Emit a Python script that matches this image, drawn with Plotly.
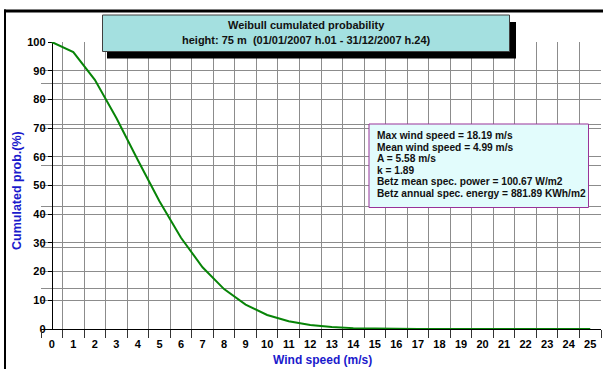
import plotly.graph_objects as go

# ---- data ----
wind_speed = list(range(0, 26))
cum_prob = [100, 96.5, 86.8, 73.5, 58.8, 44.5, 31.8, 21.5, 13.9, 8.5, 4.9,
            2.7, 1.4, 0.7, 0.3, 0.15, 0.05, 0, 0, 0, 0, 0, 0, 0, 0, 0]
x_tick_labels = [str(v) for v in range(0, 26)]
y_tick_vals = list(range(0, 101, 10))

title_lines = ["Weibull cumulated probability",
               "height: 75 m  (01/01/2007 h.01 - 31/12/2007 h.24)"]
info_lines = ["Max wind speed = 18.19 m/s",
              "Mean wind speed = 4.99 m/s",
              "A = 5.58 m/s",
              "k = 1.89",
              "Betz mean spec. power = 100.67 W/m2",
              "Betz annual spec. energy = 881.89 KWh/m2"]

# ---- layout geometry ----
W, H = 603, 369
L, R, T, B = 41, 2, 42, 40
PW, PH = W - L - R, H - T - B

def px(x):
    return (x - L) / PW

def py(y):
    return (H - B - y) / PH

FONT = "Liberation Sans, Arial"
GRID = "#8c8c8c"

fig = go.Figure()
fig.add_trace(go.Scatter(x=wind_speed, y=cum_prob, mode="lines",
                         line=dict(color="#078407", width=2),
                         cliponaxis=False, showlegend=False, hoverinfo="skip"))
# invisible helpers so the overlay axes (extra grids / ticks) get drawn
fig.add_trace(go.Scatter(x=[0], y=[0], xaxis="x2", yaxis="y", mode="markers",
                         marker=dict(opacity=0), showlegend=False, hoverinfo="skip"))
fig.add_trace(go.Scatter(x=[0], y=[0], xaxis="x", yaxis="y2", mode="markers",
                         marker=dict(opacity=0), showlegend=False, hoverinfo="skip"))

fig.update_layout(
    width=W, height=H,
    margin=dict(l=L, r=R, t=T, b=B),
    paper_bgcolor="white", plot_bgcolor="white",
    showlegend=False,
    xaxis=dict(range=[-0.5, 25.5], tickvals=wind_speed, ticktext=x_tick_labels,
               ticks="outside", ticklen=5, tickcolor="rgba(0,0,0,0)",
               showgrid=False, zeroline=False, showline=True, linecolor="black",
               linewidth=1, layer="below traces",
               tickfont=dict(family=FONT, size=11, color="black", weight="bold")),
    xaxis2=dict(range=[-0.5, 25.5], overlaying="x", anchor="y", side="bottom",
                tickvals=[v - 0.5 for v in range(0, 27)], ticks="outside",
                ticklen=8, tickcolor="#333", showticklabels=False,
                showgrid=True, gridcolor=GRID, gridwidth=1, zeroline=False,
                showline=False, layer="below traces"),
    yaxis=dict(range=[0, 100], tickvals=y_tick_vals, anchor="free",
               position=(10.8 / PW), ticks="outside", ticklen=4,
               tickcolor="black", showgrid=True, gridcolor=GRID, gridwidth=1,
               zeroline=False, showline=True, linecolor="black", linewidth=1,
               layer="below traces",
               tickfont=dict(family=FONT, size=11, color="black", weight="bold")),
    yaxis2=dict(range=[0, 100], overlaying="y", anchor="x", side="left",
                tickvals=[k * 100 / 7 for k in range(1, 7)], ticks="",
                showticklabels=False, showgrid=True, gridcolor=GRID,
                gridwidth=1, zeroline=False, showline=False),
)

shapes = []
# outer frame lines (top and left)
shapes.append(dict(type="rect", xref="paper", yref="paper",
                   x0=px(4), x1=px(W + 5), y0=py(12.5), y1=py(9.5),
                   fillcolor="black", line=dict(width=0), layer="above"))
shapes.append(dict(type="rect", xref="paper", yref="paper",
                   x0=px(4), x1=px(6), y0=py(H + 5), y1=py(9.5),
                   fillcolor="black", line=dict(width=0), layer="above"))
# title box shadow + box
shapes.append(dict(type="rect", xref="paper", yref="paper",
                   x0=px(107), x1=px(516), y0=py(58.5), y1=py(22),
                   fillcolor="black", line=dict(width=0), layer="above"))
shapes.append(dict(type="rect", xref="paper", yref="paper",
                   x0=px(102.5), x1=px(509.5), y0=py(51.5), y1=py(15),
                   fillcolor="#A4E0E0", line=dict(color="#404040", width=1),
                   layer="above"))
# info box
shapes.append(dict(type="rect", xref="paper", yref="paper",
                   x0=px(369), x1=px(588.5), y0=py(207.5), y1=py(124),
                   fillcolor="#E2FCFC", line=dict(color="#993399", width=1),
                   layer="above"))
fig.update_layout(shapes=shapes)

ann = []
for i, line in enumerate(title_lines):
    ann.append(dict(xref="paper", yref="paper", x=px(306), y=py(25 + 15.5 * i),
                    text=line, showarrow=False,
                    xanchor="center", yanchor="middle",
                    font=dict(family=FONT, size=11, color="#111", weight="bold")))
for i, line in enumerate(info_lines):
    ann.append(dict(xref="paper", yref="paper", x=px(375), y=py(135.5 + 11.6 * i),
                    text=line, showarrow=False,
                    xanchor="left", yanchor="middle",
                    font=dict(family=FONT, size=10.2, color="#111", weight="bold")))
ann.append(dict(xref="paper", yref="paper", x=px(322), y=py(360),
                text="Wind speed (m/s)", showarrow=False,
                xanchor="center", yanchor="middle",
                font=dict(family=FONT, size=12, color="#1a1acc", weight="bold")))
ann.append(dict(xref="paper", yref="paper", x=px(17), y=py(191),
                text="Cumulated prob.(%)", showarrow=False, textangle=-90,
                xanchor="center", yanchor="middle",
                font=dict(family=FONT, size=12.5, color="#1a1acc", weight="bold")))
fig.update_layout(annotations=ann)

fig.write_html("out.html", config={"displayModeBar": False},
               post_script="document.body.style.margin='0';"
                           "document.documentElement.style.margin='0';")
